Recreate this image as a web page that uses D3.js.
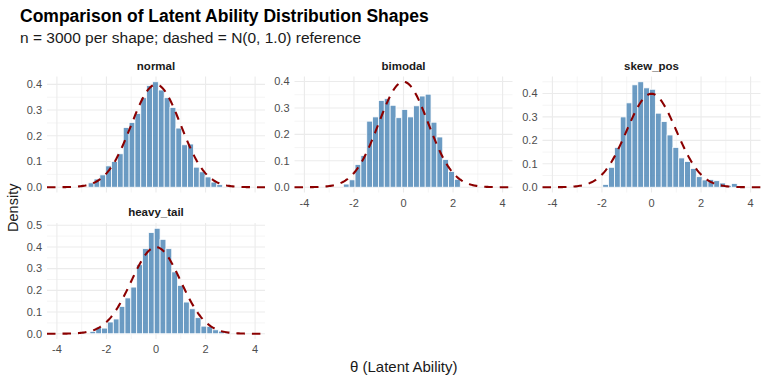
<!DOCTYPE html>
<html>
<head>
<meta charset="utf-8">
<script src="https://cdn.jsdelivr.net/npm/d3@7"></script>
<style>
  html, body { margin: 0; padding: 0; background: #fff; }
  svg { display: block; font-family: "Liberation Sans", Arial, sans-serif; }
</style>
</head>
<body>
<svg id="chart" width="768" height="384"></svg>
<script>
// histogram densities
const shapes = ['normal', 'bimodal', 'skew_pos', 'heavy_tail'];
const binWidth = 0.236;
const firstBinCenter = [-2.62, -2.31, -1.85, -2.55];

const normalDensity = [0.017, 0.032, 0.048, 0.083, 0.100, 0.130, 0.232, 0.252, 0.287, 0.348, 0.395, 0.410,
    0.378, 0.348, 0.310, 0.230, 0.165, 0.168, 0.078, 0.060, 0.040, 0.020, 0.010];
const bimodalDensity = [0.012, 0.028, 0.086, 0.120, 0.250, 0.266, 0.328, 0.335, 0.310, 0.263, 0.294, 0.266,
    0.308, 0.345, 0.352, 0.246, 0.190, 0.105, 0.060, 0.030];
const skewPosDensity = [0.012, 0.085, 0.170, 0.300, 0.360, 0.437, 0.450, 0.424, 0.418, 0.316, 0.280, 0.223,
    0.170, 0.125, 0.110, 0.080, 0.045, 0.031, 0.033, 0.028, 0.018, 0.008, 0.016];
const heavyTailDensity = [0.011, 0.028, 0.026, 0.054, 0.068, 0.126, 0.165, 0.215, 0.318, 0.392, 0.466, 0.486,
    0.435, 0.392, 0.285, 0.223, 0.146, 0.115, 0.074, 0.035, 0.034, 0.018, 0.012, 0.006];
const densities = [normalDensity, bimodalDensity, skewPosDensity, heavyTailDensity];

const xTicks = [-4, -2, 0, 2, 4];
const xMinor = [-3, -1, 1, 3];
const yTicksList = [
    [0, 0.1, 0.2, 0.3, 0.4],
    [0, 0.1, 0.2, 0.3, 0.4],
    [0, 0.1, 0.2, 0.3, 0.4],
    [0, 0.1, 0.2, 0.3, 0.4, 0.5]
];
const xLimits = [-4, 4];

const svg = d3.select('#chart');

// layout
const colLeft = [47, 294.5, 542.5];
const panelW = 218;
const rowTop = [76.5, 223];
const panelH = 116;

function dnorm(x) { return Math.exp(-x * x / 2) / Math.sqrt(2 * Math.PI); }

const xPad = (xLimits[1] - xLimits[0]) * 0.05;

shapes.forEach(function(name, i) {
    const col = i % 3;
    const row = Math.floor(i / 3);
    const left = colLeft[col];
    const top = rowTop[row];

    const g = svg.append('g')
        .attr('transform', 'translate(' + left + ',' + top + ')');

    const x = d3.scaleLinear()
        .domain([xLimits[0] - xPad, xLimits[1] + xPad])
        .range([0, panelW]);

    const data = densities[i];
    const yMax = Math.max(d3.max(data), dnorm(0));
    const y = d3.scaleLinear()
        .domain([-yMax * 0.05, yMax * 1.05])
        .range([panelH, 0]);

    const yTicks = yTicksList[i];
    const yMinor = yTicks.map(function(t) { return t + 0.05; })
        .filter(function(t) { return t < y.domain()[1]; });

    // grid
    g.selectAll('.ygm').data(yMinor).enter().append('line')
        .attr('x1', 0).attr('x2', panelW)
        .attr('y1', function(d) { return y(d); }).attr('y2', function(d) { return y(d); })
        .attr('stroke', '#ebebeb').attr('stroke-width', 0.55);
    g.selectAll('.xgm').data(xMinor).enter().append('line')
        .attr('y1', 0).attr('y2', panelH)
        .attr('x1', function(d) { return x(d); }).attr('x2', function(d) { return x(d); })
        .attr('stroke', '#ebebeb').attr('stroke-width', 0.55);
    g.selectAll('.yg').data(yTicks).enter().append('line')
        .attr('x1', 0).attr('x2', panelW)
        .attr('y1', function(d) { return y(d); }).attr('y2', function(d) { return y(d); })
        .attr('stroke', '#ebebeb').attr('stroke-width', 1.1);
    g.selectAll('.xg').data(xTicks).enter().append('line')
        .attr('y1', 0).attr('y2', panelH)
        .attr('x1', function(d) { return x(d); }).attr('x2', function(d) { return x(d); })
        .attr('stroke', '#ebebeb').attr('stroke-width', 1.1);

    // bars
    g.selectAll('.bar').data(data).enter().append('rect')
        .attr('class', 'bar')
        .attr('x', function(d, k) { return x(firstBinCenter[i] + k * binWidth - binWidth / 2); })
        .attr('width', x(binWidth) - x(0))
        .attr('y', function(d) { return y(d); })
        .attr('height', function(d) { return y(0) - y(d); })
        .attr('fill', 'steelblue')
        .attr('fill-opacity', 0.8)
        .attr('stroke', '#fff')
        .attr('stroke-width', 0.8);

    // reference N(0,1)
    const curve = d3.range(x.domain()[0], x.domain()[1] + 0.001, 0.05).map(function(t) { return [t, dnorm(t)]; });
    g.append('path')
        .datum(curve)
        .attr('fill', 'none')
        .attr('stroke', '#8b0000')
        .attr('stroke-width', 2.1)
        .attr('stroke-dasharray', '8.5,7')
        .attr('d', d3.line()
            .x(function(d) { return x(d[0]); })
            .y(function(d) { return y(d[1]); }));

    // strip
    svg.append('text')
        .attr('x', left + panelW / 2)
        .attr('y', top - 7)
        .attr('text-anchor', 'middle')
        .attr('font-size', '11.5px')
        .attr('font-weight', 'bold')
        .attr('fill', '#1a1a1a')
        .text(name);

    // y tick labels
    g.selectAll('.yl').data(yTicks).enter().append('text')
        .attr('x', -5)
        .attr('y', function(d) { return y(d); })
        .attr('dy', '0.35em')
        .attr('text-anchor', 'end')
        .attr('font-size', '11px')
        .attr('fill', '#4d4d4d')
        .text(function(d) { return d3.format('.1f')(d); });

    // x tick labels, only where no panel sits below
    if (i + 3 >= shapes.length) {
        g.selectAll('.xl').data(xTicks).enter().append('text')
            .attr('x', function(d) { return x(d); })
            .attr('y', panelH + 14)
            .attr('text-anchor', 'middle')
            .attr('font-size', '11px')
            .attr('fill', '#4d4d4d')
            .text(function(d) { return d < 0 ? '-' + Math.abs(d) : d; });
    }
});

// titles
svg.append('text')
    .attr('x', 20).attr('y', 22)
    .attr('font-size', '17.5px').attr('font-weight', 'bold').attr('fill', '#000')
    .text('Comparison of Latent Ability Distribution Shapes');
svg.append('text')
    .attr('x', 20).attr('y', 43)
    .attr('font-size', '15.5px').attr('fill', '#1a1a1a')
    .text('n = 3000 per shape; dashed = N(0, 1.0) reference');

svg.append('text')
    .attr('x', (colLeft[0] + colLeft[2] + panelW) / 2)
    .attr('y', 372)
    .attr('text-anchor', 'middle')
    .attr('font-size', '15px').attr('fill', '#1a1a1a')
    .text('θ (Latent Ability)');

svg.append('text')
    .attr('transform', 'translate(18,' + ((rowTop[0] + rowTop[1] + panelH) / 2) + ') rotate(-90)')
    .attr('text-anchor', 'middle')
    .attr('font-size', '14.5px').attr('fill', '#1a1a1a')
    .text('Density');
</script>
</body>
</html>
